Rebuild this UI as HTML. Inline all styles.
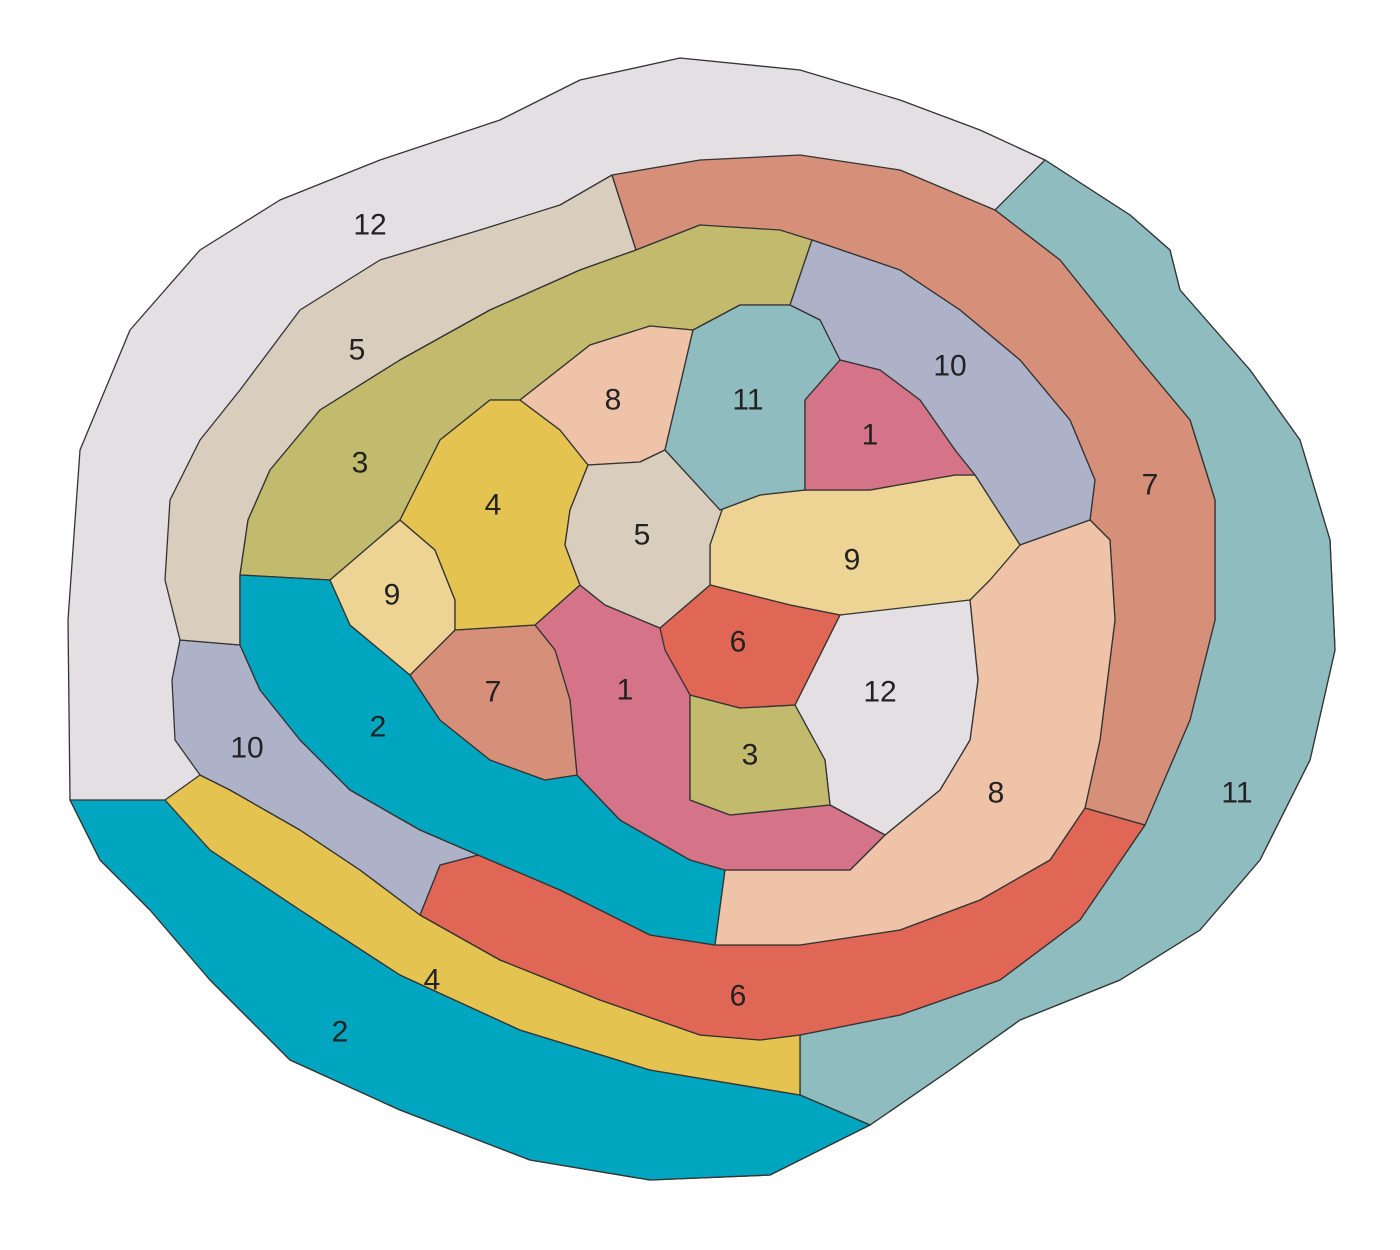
<!DOCTYPE html>
<html><head><meta charset="utf-8"><style>
html,body{margin:0;padding:0;background:#fff;}
svg{display:block;}
polygon{stroke:#333;stroke-width:1.3;stroke-linejoin:round;}
text{font-family:"Liberation Sans",sans-serif;font-size:30px;fill:#222;text-anchor:middle;dominant-baseline:central;}
</style></head><body>
<svg width="1400" height="1250" viewBox="0 0 1400 1250" xmlns="http://www.w3.org/2000/svg">
<polygon fill="#e4dfe3" points="70,800 68,620 80,450 130,330 200,250 280,200 380,160 500,120 580,80 680,58 800,70 900,100 980,130 1045,160 1130,215 1170,250 1180,290 1250,370 1300,440 1330,540 1335,650 1310,760 1260,860 1200,930 1120,980 1020,1020 950,1070 870,1125 770,1175 650,1180 530,1160 400,1110 290,1060 210,980 150,910 100,860"/>
<polygon fill="#8fbcbf" points="1045,160 1130,215 1170,250 1180,290 1250,370 1300,440 1330,540 1335,650 1310,760 1260,860 1200,930 1120,980 1020,1020 950,1070 870,1125 800,1095 800,1035 900,1015 1000,980 1080,920 1145,825 1190,720 1215,620 1215,500 1190,420 1140,360 1060,260 995,210"/>
<polygon fill="#00a5c0" points="70,800 165,800 210,850 300,910 400,975 520,1030 650,1070 800,1095 870,1125 770,1175 650,1180 530,1160 400,1110 290,1060 210,980 150,910 100,860"/>
<polygon fill="#e5c350" points="165,800 200,775 230,790 300,830 360,870 420,915 500,960 600,1000 700,1035 760,1040 800,1035 800,1095 650,1070 520,1030 400,975 300,910 210,850"/>
<polygon fill="#e06656" points="420,915 440,865 478,855 560,890 650,935 715,945 800,945 900,930 980,900 1050,860 1085,808 1145,825 1080,920 1000,980 900,1015 800,1035 760,1040 700,1035 600,1000 500,960"/>
<polygon fill="#adb2c8" points="200,775 175,740 172,680 180,640 240,645 260,690 300,740 350,790 420,830 478,855 440,865 420,915 360,870 300,830 230,790"/>
<polygon fill="#d9cdbd" points="180,640 165,580 170,500 200,440 240,390 300,310 380,260 480,230 560,205 612,175 636,250 580,270 490,310 400,360 320,410 270,470 248,520 240,575 240,645"/>
<polygon fill="#d6907a" points="612,175 700,160 800,155 900,170 995,210 1060,260 1140,360 1190,420 1215,500 1215,620 1190,720 1145,825 1085,808 1100,740 1115,620 1110,540 1090,520 1095,480 1070,420 1020,360 960,310 900,270 812,240 780,235 700,225 636,250"/>
<polygon fill="#c2bb6e" points="636,250 700,225 780,230 812,240 790,305 740,305 693,330 650,326 590,345 520,400 490,400 440,440 400,520 330,580 240,575 248,520 270,470 320,410 400,360 490,310 580,270"/>
<polygon fill="#00a5c0" points="240,575 330,580 350,625 410,675 440,720 490,760 545,780 577,775 620,820 690,860 725,870 715,945 650,935 560,890 478,855 420,830 350,790 300,740 260,690 240,645"/>
<polygon fill="#adb2c8" points="812,240 900,270 960,310 1020,360 1070,420 1095,480 1090,520 1020,545 975,475 955,450 920,400 880,370 840,360 820,320 790,305"/>
<polygon fill="#efc3a7" points="1090,520 1110,540 1115,620 1100,740 1085,808 1050,860 980,900 900,930 800,945 715,945 725,870 850,870 885,835 940,790 970,740 978,680 970,600 1020,545"/>
<polygon fill="#edd394" points="720,510 760,495 805,490 870,490 955,475 975,475 1020,545 990,580 970,600 900,612 840,615 790,605 710,585 710,545"/>
<polygon fill="#e4dfe3" points="840,615 970,600 978,680 970,740 940,790 885,835 830,805 825,760 795,705"/>
<polygon fill="#d57489" points="535,625 580,585 605,605 660,628 690,690 690,800 730,815 830,805 885,835 850,870 725,870 690,860 620,820 577,775 570,700 555,650"/>
<polygon fill="#c2bb6e" points="690,695 740,708 795,705 825,760 830,805 730,815 690,800"/>
<polygon fill="#e06656" points="660,628 710,585 790,605 840,615 795,705 740,708 690,695 665,650"/>
<polygon fill="#d6907a" points="410,675 455,630 535,625 555,650 570,700 577,775 545,780 490,760 440,720"/>
<polygon fill="#edd394" points="330,580 400,520 435,550 455,600 455,630 410,675 350,625"/>
<polygon fill="#e5c350" points="400,520 440,440 490,400 520,400 560,430 588,465 570,510 565,545 580,585 535,625 455,630 455,600 435,550"/>
<polygon fill="#efc3a7" points="520,400 590,345 650,326 693,330 665,450 640,462 588,465 560,430"/>
<polygon fill="#d9cdbd" points="588,465 640,462 665,450 722,510 710,545 710,585 660,628 605,605 580,585 565,545 570,510"/>
<polygon fill="#8fbcbf" points="693,330 740,305 790,305 820,320 840,360 805,400 805,490 760,495 720,510 665,450"/>
<polygon fill="#d57489" points="840,360 880,370 920,400 955,450 975,475 955,475 870,490 805,490 805,400"/>
<text x="370" y="225">12</text><text x="357" y="350">5</text><text x="360" y="463">3</text>
<text x="613" y="400">8</text><text x="748" y="400">11</text><text x="950" y="366">10</text>
<text x="870" y="435">1</text><text x="1150" y="485">7</text><text x="493" y="505">4</text>
<text x="642" y="535">5</text><text x="852" y="560">9</text><text x="392" y="595">9</text>
<text x="738" y="642">6</text><text x="493" y="692">7</text><text x="625" y="690">1</text>
<text x="880" y="692">12</text><text x="247" y="748">10</text><text x="378" y="727">2</text>
<text x="750" y="755">3</text><text x="996" y="793">8</text><text x="1237" y="793">11</text>
<text x="432" y="980">4</text><text x="738" y="996">6</text><text x="340" y="1032">2</text>
</svg>
</body></html>
